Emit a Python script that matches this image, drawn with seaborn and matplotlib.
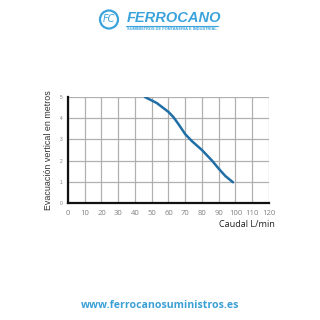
import matplotlib
matplotlib.use("Agg")
import matplotlib.pyplot as plt
import seaborn as sns
import pandas as pd
from matplotlib.patches import Circle

# Data
caudal = [46, 53, 60, 63, 66, 70, 74, 80, 86, 90, 94, 98.5]
altura = [5.0, 4.72, 4.3, 4.05, 3.72, 3.25, 2.92, 2.5, 2.0, 1.62, 1.27, 0.98]
x_ticks = [0, 10, 20, 30, 40, 50, 60, 70, 80, 90, 100, 110, 120]
y_ticks = [0, 1, 2, 3, 4, 5]

df = pd.DataFrame({"Caudal": caudal, "Altura": altura})

sns.set_theme(style="white")
plt.rcParams["font.family"] = ["Liberation Sans", "DejaVu Sans"]

fig = plt.figure(figsize=(3.2, 3.2), dpi=100)
fig.patch.set_facecolor("white")
ax = fig.add_axes([0.2125, 0.3656, 0.628, 0.331])

sns.lineplot(data=df, x="Caudal", y="Altura", ax=ax, color="#1f6ea6",
             linewidth=1.8, zorder=3)

ax.set_xlim(0, 120)
ax.set_ylim(0, 5)
ax.set_xticks(x_ticks)
ax.set_yticks(y_ticks)
ax.grid(True, color="#b0b0b0", linewidth=0.9)
ax.set_axisbelow(True)
for s in ["top", "right"]:
    ax.spines[s].set_visible(False)
for s in ["left", "bottom"]:
    ax.spines[s].set_color("#111111")
    ax.spines[s].set_linewidth(1.6)

ax.tick_params(axis="x", labelsize=5.5, colors="#808080", length=0, pad=5)
ax.tick_params(axis="y", labelsize=3.5, colors="#808080", length=0, pad=4)
for lab in ax.get_xticklabels():
    lab.set_fontfamily(["Open Sans", "DejaVu Sans"])

ax.set_xlabel("")
ax.set_ylabel("Evacuación vertical en metros", fontsize=6.4, color="#333333",
              labelpad=5)
fig.text(0.86, 0.297, "Caudal L/min", ha="right", va="center", fontsize=6.6,
         color="#222222", family=["Open Sans", "DejaVu Sans"])

# Logo
logo_color = "#3aa3dc"
circ = Circle((109 / 320, 1 - 19.5 / 320), 9 / 320, transform=fig.transFigure,
              fill=False, edgecolor=logo_color, linewidth=1.6)
fig.patches.append(circ)
fig.text(109 / 320, 1 - 19.5 / 320, "FC", ha="center", va="center",
         fontsize=7, color=logo_color, fontstyle="italic",
         family=["DejaVu Sans"])
fig.text(127 / 320, 1 - 18 / 320, "FERROCANO", ha="left", va="center",
         fontsize=10.5, fontweight="bold", fontstyle="italic", color=logo_color,
         family=["Liberation Sans", "DejaVu Sans"])
fig.add_artist(plt.Line2D([126 / 320, 218 / 320], [1 - 25.5 / 320, 1 - 25.5 / 320],
                          transform=fig.transFigure, color=logo_color, linewidth=0.8))
fig.text(127 / 320, 1 - 29.5 / 320, "SUMINISTROS DE FONTANERIA E INDUSTRIAL",
         ha="left", va="center", fontsize=2.85, fontweight="bold", color=logo_color,
         family=["Liberation Sans", "DejaVu Sans"])

fig.text(0.5, 1 - 305 / 320, "www.ferrocanosuministros.es", ha="center",
         va="center", fontsize=7.6, fontweight="bold", color="#3a9fd6",
         family=["Open Sans", "DejaVu Sans"])

fig.savefig("out.png", dpi=100, facecolor="white")
